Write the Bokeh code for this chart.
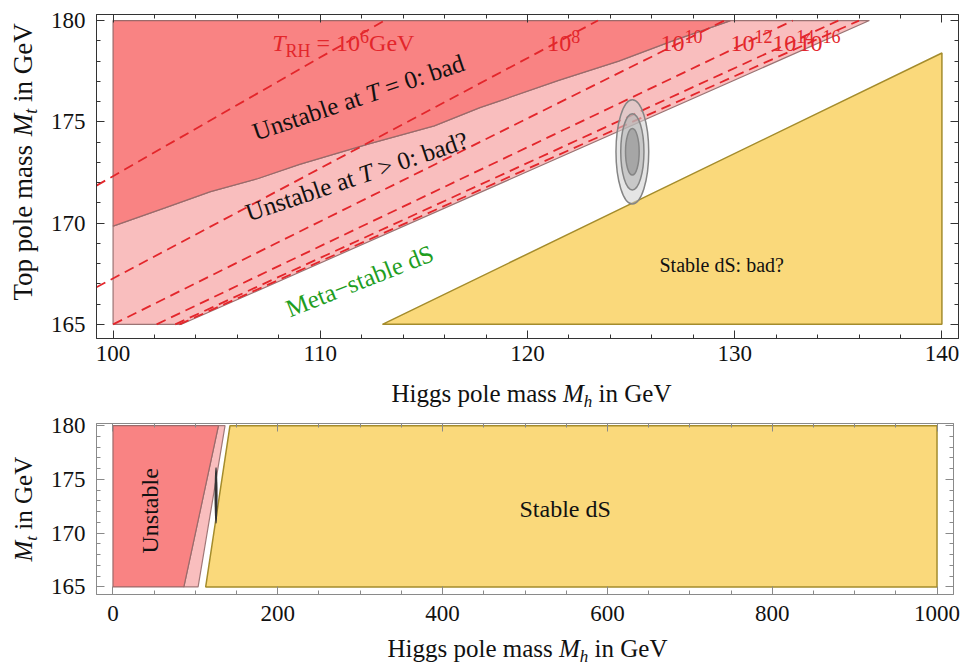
import math
from bokeh.plotting import figure
from bokeh.models import Label, LinearAxis, SingleIntervalTicker, Range1d, CustomLabelingPolicy
from bokeh.layouts import column, row
from bokeh.embed import file_html
from bokeh.resources import INLINE

# ---------------- data ----------------
mh_min = 100.0
mt_min = 165.0
# upper panel: boundary of the region "unstable at T = 0"
mh_unstable_T0 = [100.0, 102.5, 104.7, 107.0, 109.0, 112.3, 115.5, 117.7, 118.7, 121.5, 124.4, 127.0, 129.8]
mt_unstable_T0 = [169.85, 170.75, 171.55, 172.2, 172.9, 173.9, 174.8, 175.7, 176.05, 177.05, 178.0, 179.0, 180.0]
# boundary of thermal instability (edge of the meta-stable band)
mh_thermal = [103.3, 136.5]
mt_thermal = [165.0, 180.0]
# stable dS triangle
mh_stable = [113.0, 140.0, 140.0]
mt_stable = [165.0, 165.0, 178.4]
# reheating temperature contours (T_RH = 10^n GeV)
trh_exponents = ["6", "8", "10", "12", "14", "16"]
trh_mh0 = [99.2, 99.2, 100.0, 102.1, 103.0, 103.2]
trh_mt0 = [171.85, 166.83, 165.0, 165.0, 165.0, 165.0]
trh_mh1 = [113.1, 123.4, 129.5, 132.8, 135.0, 136.0]
trh_mt1 = [180.0, 180.0, 180.0, 180.0, 180.0, 180.0]
# experimental ellipses (3, 2, 1 sigma), full widths
exp_mh = 125.06
exp_mt = 173.52
ell_dmh = [1.58, 1.12, 0.66]
ell_dmt = [5.16, 3.78, 2.30]
# lower panel regions
mh_low_unstable = [0.0, 86.0, 128.0, 0.0]
mt_low_unstable = [165.0, 165.0, 180.0, 180.0]
mh_low_thermal = [86.0, 103.3, 136.0, 128.0]
mt_low_thermal = [165.0, 165.0, 180.0, 180.0]
mh_low_stable = [112.5, 1000.0, 1000.0, 142.0]
mt_low_stable = [165.0, 165.0, 180.0, 180.0]
# plot ranges
top_x_range = (99.2, 140.8)
top_y_range = (164.3, 180.3)
bot_x_range = (-20.0, 1020.0)
bot_y_range = (164.3, 180.2)

# ---------------- styling ----------------
FONT = "Liberation Serif"
DARK_RED = "#f98383"
LIGHT_RED = "#f9bebe"
YELLOW = "#fad97b"
RED = "#e3262b"
GREEN = "#1f9e1f"
TXT = "#111111"
BASE_FIX = 0.4   # empirical baseline correction (fraction of font size)

W_REG = {' ': 250, 'H': 722, 'i': 278, 'g': 500, 's': 389, 'p': 500, 'o': 500, 'l': 278,
         'e': 444, 'm': 778, 'a': 444, 'n': 500, 'G': 722, 'V': 722, 'T': 611, 'U': 722,
         't': 278, 'b': 500, 'd': 500, 'S': 556, ':': 278, '?': 444, '=': 564, '>': 564,
         '0': 500, '1': 500, '2': 500, '4': 500, '6': 500, '8': 500, 'R': 667, 'M': 889,
         '\u2212': 564, 'h': 500}
W_IT = {'M': 833, 'T': 556, 't': 278, 'h': 500}


def twidth(s, italic, size):
    tbl = W_IT if italic else W_REG
    return sum(tbl.get(c, W_REG.get(c, 500)) for c in s) * size / 1000.0


def make_conv(frame_left, frame_top, frame_w, frame_h, xr, yr):
    sx = frame_w / (xr[1] - xr[0])
    sy = frame_h / (yr[1] - yr[0])

    def conv(px, py):
        return xr[0] + (px - frame_left) / sx, yr[1] - (py - frame_top) / sy
    return conv


def rich(p, conv, start, angle_deg, pieces, color=TXT):
    a = math.radians(angle_deg)
    xd, yd = conv(*start)
    adv = 0.0
    for txt, it, size, shift in pieces:
        lead = len(txt) - len(txt.lstrip(' '))
        s = txt.strip(' ')
        d = adv + twidth(' ' * lead, it, size)
        sh = shift + BASE_FIX * size
        xo = d * math.cos(a) - sh * math.sin(a)
        yo = d * math.sin(a) + sh * math.cos(a)
        if s:
            p.add_layout(Label(x=xd, y=yd, x_offset=xo, y_offset=yo, text=s, angle=a,
                               text_font=FONT, text_font_size=f"{size}px",
                               text_font_style="italic" if it else "normal",
                               text_color=color, text_align="left",
                               text_baseline="alphabetic"))
        adv += twidth(txt, it, size)


NO_LABELS = CustomLabelingPolicy(code="for (const i of indices) { indices.unset(i) }\nreturn indices")


def setup_axes(p, xint, xminor, yint, yminor, col, x_standoff):
    xt = SingleIntervalTicker(interval=xint, num_minor_ticks=xminor)
    yt = SingleIntervalTicker(interval=yint, num_minor_ticks=yminor)
    top = LinearAxis(ticker=xt)
    right = LinearAxis(ticker=yt)
    p.add_layout(top, "above")
    p.add_layout(right, "right")
    bottom = p.below[0]
    left = p.left[0]
    bottom.ticker = xt
    left.ticker = yt
    for ax in (top, right, bottom, left):
        ax.axis_line_color = col
        ax.major_tick_line_color = col
        ax.minor_tick_line_color = col
        ax.major_tick_in = 8
        ax.major_tick_out = 0
        ax.minor_tick_in = 4
        ax.minor_tick_out = 0
    for ax in (top, right):
        ax.major_label_text_font_size = "0px"
        ax.major_label_standoff = 0
        ax.major_label_policy = NO_LABELS
    for ax in (bottom, left):
        ax.major_label_text_font = FONT
        ax.major_label_text_font_size = "23px"
        ax.major_label_text_color = TXT
    bottom.major_label_standoff = x_standoff
    left.major_label_standoff = 11


def label_strip(width, height, border_top=0, border_bottom=0):
    fh = height - border_top - border_bottom
    f = figure(width=width, height=height, x_range=Range1d(0, width), y_range=Range1d(0, fh),
               x_axis_type=None, y_axis_type=None, output_backend="svg", toolbar_location=None,
               min_border_left=0, min_border_right=0, min_border_top=border_top,
               min_border_bottom=border_bottom, outline_line_color=None)
    f.grid.visible = False
    return f


def strip_conv(left, frame_bottom):
    def conv(px, py):
        return px - left, frame_bottom - py
    return conv


AXIS_X_PIECES = [("Higgs pole mass ", False, 25, 0), ("M", True, 25, 0),
                 ("h", True, 17, -5), (" in GeV", False, 25, 0)]

# ---------------- upper panel (page y 0..375, frame 14..338) ----------------
p1 = figure(width=921, height=375, x_range=Range1d(*top_x_range), y_range=Range1d(*top_y_range),
            output_backend="svg", toolbar_location=None,
            min_border_left=56, min_border_right=3, min_border_top=14, min_border_bottom=37)
p1.grid.visible = False
p1.outline_line_color = "#333333"
setup_axes(p1, 10, 5, 5, 5, "#333333", 7)

# light red: unstable at T > 0
p1.patch(mh_unstable_T0 + [mh_thermal[1], mh_thermal[0], mh_min],
         mt_unstable_T0 + [mt_thermal[1], mt_thermal[0], mt_min],
         fill_color=LIGHT_RED, line_color="#9b7474", line_width=1.2)
# dark red: unstable at T = 0
p1.patch(mh_unstable_T0 + [mh_min], mt_unstable_T0 + [mt_unstable_T0[-1]],
         fill_color=DARK_RED, line_color="#9b6a6a", line_width=1.2)
# stable dS
p1.patch(mh_stable, mt_stable, fill_color=YELLOW, line_color="#a48c2c", line_width=1.5)
# T_RH contours
p1.segment(x0=trh_mh0, y0=trh_mt0, x1=trh_mh1, y1=trh_mt1, line_color=RED,
           line_width=1.8, line_dash="10 6")
# experimental ellipses
p1.ellipse(x=[exp_mh] * 3, y=[exp_mt] * 3, width=ell_dmh, height=ell_dmt,
           fill_color=["#d0d0d0", "#b0b0b0", "#909090"], fill_alpha=[0.55, 0.55, 0.6],
           line_color="#858585", line_width=1.5)

conv1 = make_conv(96, 14, 862, 324, top_x_range, top_y_range)
rich(p1, conv1, (271.7, 52.5), 0, [("T", True, 24, 0), ("RH", False, 18, -5),
                                   (" = 10", False, 24, 0), (trh_exponents[0], False, 18, 9),
                                   ("GeV", False, 24, 0)], RED)
for e, px in zip(trh_exponents[1:], [546.7, 660.0, 730.0, 771.7, 798.0]):
    rich(p1, conv1, (px, 52.5), 0, [("10", False, 24, 0), (e, False, 18, 9)], RED)
rich(p1, conv1, (256.0, 141.7), 18.6, [("Unstable at ", False, 25, 0), ("T", True, 25, 0),
                                       (" = 0: bad", False, 25, 0)])
rich(p1, conv1, (249.0, 222.5), 18.6, [("Unstable at ", False, 25, 0), ("T", True, 25, 0),
                                       (" > 0: bad?", False, 25, 0)])
rich(p1, conv1, (290.0, 318.3), 21.5, [("Meta\u2212stable dS", False, 25, 0)], GREEN)
rich(p1, conv1, (659.0, 272.0), 0, [("Stable dS: bad?", False, 20, 0)])

ylab1 = label_strip(40, 375, 14, 37)
rich(ylab1, strip_conv(0, 338), (33.0, 300.0), 90,
     [("Top pole mass ", False, 27, 0), ("M", True, 27, 0), ("t", True, 18, -5),
      (" in GeV", False, 27, 0)])

xlab1 = label_strip(961, 37)
rich(xlab1, strip_conv(0, 412), (391.0, 403.0), 0, AXIS_X_PIECES)

# ---------------- lower panel (page y 412..632, frame 423..594) ----------------
p2 = figure(width=921, height=220, x_range=Range1d(*bot_x_range), y_range=Range1d(*bot_y_range),
            output_backend="svg", toolbar_location=None,
            min_border_left=56, min_border_right=8, min_border_top=11, min_border_bottom=38)
p2.grid.visible = False
p2.outline_line_color = "#8a8a8a"
setup_axes(p2, 200, 4, 5, 5, "#8a8a8a", 11)

p2.patch(mh_low_thermal, mt_low_thermal, fill_color=LIGHT_RED, line_color="#a07878", line_width=1.2)
p2.patch(mh_low_unstable, mt_low_unstable, fill_color=DARK_RED, line_color="#9b6a6a", line_width=1.2)
p2.patch(mh_low_stable, mt_low_stable, fill_color=YELLOW, line_color="#a48c2c", line_width=1.5)
p2.ellipse(x=[exp_mh] * 3, y=[exp_mt] * 3, width=ell_dmh, height=ell_dmt,
           fill_color=["#d0d0d0", "#b0b0b0", "#909090"], fill_alpha=[0.55, 0.55, 0.6],
           line_color="#333333", line_width=1.5)

conv2 = make_conv(96, 423, 857, 171, bot_x_range, bot_y_range)
rich(p2, conv2, (159.3, 553.0), 90, [("Unstable", False, 24, 0)])
rich(p2, conv2, (519.0, 518.0), 0, [("Stable dS", False, 24, 0)])

ylab2 = label_strip(40, 220, 11, 38)
rich(ylab2, strip_conv(0, 594), (33.0, 561.0), 90,
     [("M", True, 25, 0), ("t", True, 17, -5), (" in GeV", False, 25, 0)])

xlab2 = label_strip(961, 36)
rich(xlab2, strip_conv(0, 668), (387.0, 658.0), 0, AXIS_X_PIECES)

layout = column(row(ylab1, p1), xlab1, row(ylab2, p2), xlab2)
open("out.html", "w").write(file_html(layout, INLINE))
